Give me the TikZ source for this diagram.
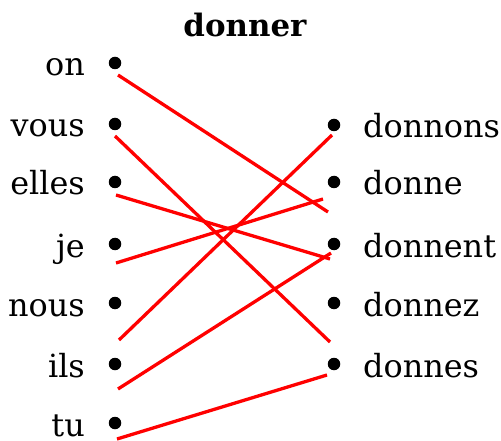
\documentclass[tikz,border=0pt]{standalone}
\usepackage{fontspec}
\setmainfont{DejaVu Serif}
\begin{document}
\begin{tikzpicture}[x=1bp,y=-1bp,
  word/.style={inner sep=0pt,font=\fontsize{32}{36}\selectfont},
  dotc/.style={circle,fill=black,inner sep=0pt,minimum size=12.5bp},
  link/.style={red,line width=3.3bp}]
\useasboundingbox (0,0) rectangle (501,441);
\node[inner sep=0pt,font=\fontsize{31}{36}\selectfont\bfseries,anchor=base] (title) at (245,37) {donner};
% left
\foreach \n/\w/\y in {on/on/63,vous/vous/124,elles/elles/182,je/je/244,nous/nous/303,ils/ils/364,tu/tu/423}{
  \node[dotc] (L\n) at (115,\y) {};
  \node[word,anchor=base east] (W\n) at (85,\y+13) {\w};
}
% right
\foreach \n/\w/\y in {donnons/donnons/125,donne/donne/182,donnent/donnent/244,donnez/donnez/303,donnes/donnes/364}{
  \node[dotc] (R\n) at (334,\y) {};
  \node[word,anchor=base west] (W\n) at (363,\y+13) {\w};
}
% line ends
\coordinate (a1) at (118,75);  \coordinate (b1) at (328,212);
\coordinate (a2) at (115,136); \coordinate (b2) at (330,342);
\coordinate (a3) at (116,195); \coordinate (b3) at (330,259);
\coordinate (a4) at (116,263); \coordinate (b4) at (323,199);
\coordinate (a5) at (119,340); \coordinate (b5) at (332,135);
\coordinate (a6) at (118,389); \coordinate (b6) at (331,253);
\coordinate (a7) at (117,439); \coordinate (b7) at (327,375);
\foreach \i in {1,...,7}{\draw[link] (a\i) -- (b\i);}
\end{tikzpicture}
\end{document}
